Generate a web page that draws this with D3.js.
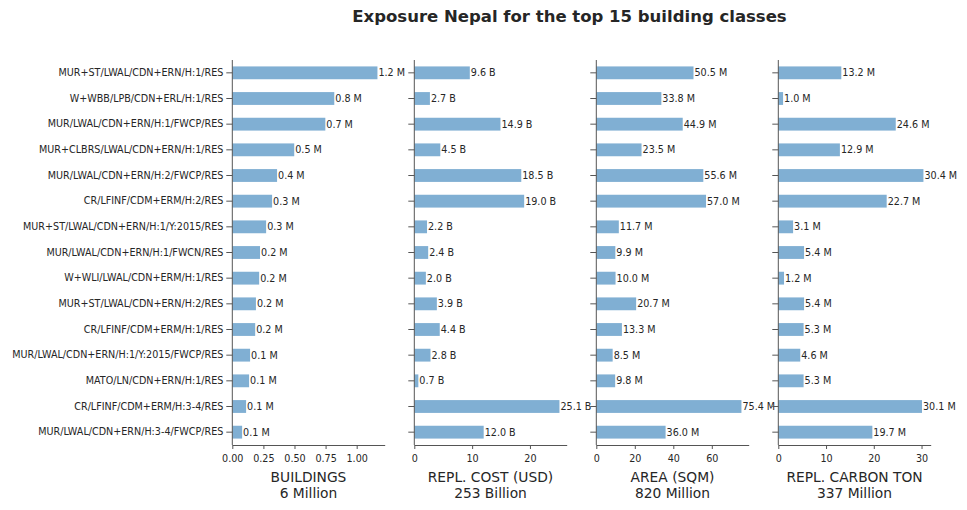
<!DOCTYPE html>
<html lang="en">
<head>
<meta charset="UTF-8">
<title>Exposure Nepal</title>
<script src="https://d3js.org/d3.v7.min.js"></script>
<style>
  body { margin: 0; background: #fff; }
  text { font-family: "DejaVu Sans", sans-serif; fill: #262626; }
  .domain, .tick line { stroke: #555; }
  .bar { fill: #80afd3; }
</style>
</head>
<body>
<svg id="chart"></svg>
<script>
// building classes, top to bottom
var classes = [
  "MUR+ST/LWAL/CDN+ERN/H:1/RES",
  "W+WBB/LPB/CDN+ERL/H:1/RES",
  "MUR/LWAL/CDN+ERN/H:1/FWCP/RES",
  "MUR+CLBRS/LWAL/CDN+ERN/H:1/RES",
  "MUR/LWAL/CDN+ERN/H:2/FWCP/RES",
  "CR/LFINF/CDM+ERM/H:2/RES",
  "MUR+ST/LWAL/CDN+ERN/H:1/Y:2015/RES",
  "MUR/LWAL/CDN+ERN/H:1/FWCN/RES",
  "W+WLI/LWAL/CDN+ERM/H:1/RES",
  "MUR+ST/LWAL/CDN+ERN/H:2/RES",
  "CR/LFINF/CDM+ERM/H:1/RES",
  "MUR/LWAL/CDN+ERN/H:1/Y:2015/FWCP/RES",
  "MATO/LN/CDN+ERN/H:1/RES",
  "CR/LFINF/CDM+ERM/H:3-4/RES",
  "MUR/LWAL/CDN+ERN/H:3-4/FWCP/RES"
];

// values per panel (millions / billions / millions / millions)
var buildings = [1.167, 0.82, 0.748, 0.498, 0.36, 0.32, 0.272, 0.223, 0.216, 0.19, 0.184, 0.143, 0.135, 0.111, 0.079];
var replCost = [9.6, 2.7, 14.9, 4.5, 18.5, 19.0, 2.2, 2.4, 2.0, 3.9, 4.4, 2.8, 0.7, 25.1, 12.0];
var area = [50.5, 33.8, 44.9, 23.5, 55.6, 57.0, 11.7, 9.9, 10.0, 20.7, 13.3, 8.5, 9.8, 75.4, 36.0];
var carbon = [13.2, 1.0, 24.6, 12.9, 30.4, 22.7, 3.1, 5.4, 1.2, 5.4, 5.3, 4.6, 5.3, 30.1, 19.7];

var panelTitles = ["BUILDINGS", "REPL. COST (USD)", "AREA (SQM)", "REPL. CARBON TON"];
var panelTotals = ["6 Million", "253 Billion", "820 Million", "337 Million"];
var units = ["M", "B", "M", "M"];
var xTicks = [[0, 0.25, 0.5, 0.75, 1.0], [0, 10, 20], [0, 20, 40, 60], [0, 10, 20, 30]];
var tickFormats = [".2f", "d", "d", "d"];

var width = 967, height = 510;
var plotTop = 60, plotBottom = 445;
var panelLeft = [232.3, 414.3, 596.3, 778.3];
var panelWidth = 152.4;
var smallFont = "9.6px";

var svg = d3.select("#chart").attr("width", width).attr("height", height);

svg.append("text")
   .attr("x", 569.5).attr("y", 22)
   .attr("text-anchor", "middle")
   .style("font-size", "16.5px").style("font-weight", "bold")
   .text("Exposure Nepal for the top 15 building classes");

var yScale = d3.scaleBand()
               .domain(classes)
               .range([plotTop, plotBottom])
               .paddingInner(0.5)
               .paddingOuter(0.25);

var series = [buildings, replCost, area, carbon];

series.forEach(function(values, i) {
  var g = svg.append("g").attr("transform", "translate(" + panelLeft[i] + ",0)");
  var xScale = d3.scaleLinear()
                 .domain([0, d3.max(values) * 1.05])
                 .range([0, panelWidth]);

  g.selectAll(".bar")
   .data(values)
   .enter().append("rect")
   .attr("class", "bar")
   .attr("x", 0)
   .attr("y", function(d, j) { return yScale(classes[j]); })
   .attr("width", function(d) { return xScale(d); })
   .attr("height", yScale.bandwidth());

  var yAxis = d3.axisLeft(yScale).tickSize(6).tickPadding(3).tickSizeOuter(0);
  if (i > 0) yAxis.tickFormat("");
  var ya = g.append("g").call(yAxis);
  ya.select(".domain").attr("d", "M0," + plotTop + "V" + plotBottom);
  ya.selectAll("text").style("font-size", smallFont).style("fill", "#262626");

  var xa = g.append("g")
            .attr("transform", "translate(0," + plotBottom + ")")
            .call(d3.axisBottom(xScale).tickValues(xTicks[i])
                    .tickFormat(d3.format(tickFormats[i]))
                    .tickSize(4).tickPadding(6).tickSizeOuter(0));
  xa.selectAll("text").style("font-size", smallFont).style("fill", "#262626");

  g.selectAll(".val")
   .data(values)
   .enter().append("text")
   .attr("class", "val")
   .attr("x", function(d) { return xScale(d) + 1; })
   .attr("y", function(d, j) { return yScale(classes[j]) + yScale.bandwidth() / 2; })
   .attr("dy", "0.35em")
   .style("font-size", smallFont)
   .text(function(d) { return d.toFixed(1) + " " + units[i]; });

  g.append("text")
   .attr("x", panelWidth / 2).attr("y", 482)
   .attr("text-anchor", "middle")
   .style("font-size", "13.8px")
   .text(panelTitles[i]);
  g.append("text")
   .attr("x", panelWidth / 2).attr("y", 498)
   .attr("text-anchor", "middle")
   .style("font-size", "13.8px")
   .text(panelTotals[i]);
});
</script>
</body>
</html>
